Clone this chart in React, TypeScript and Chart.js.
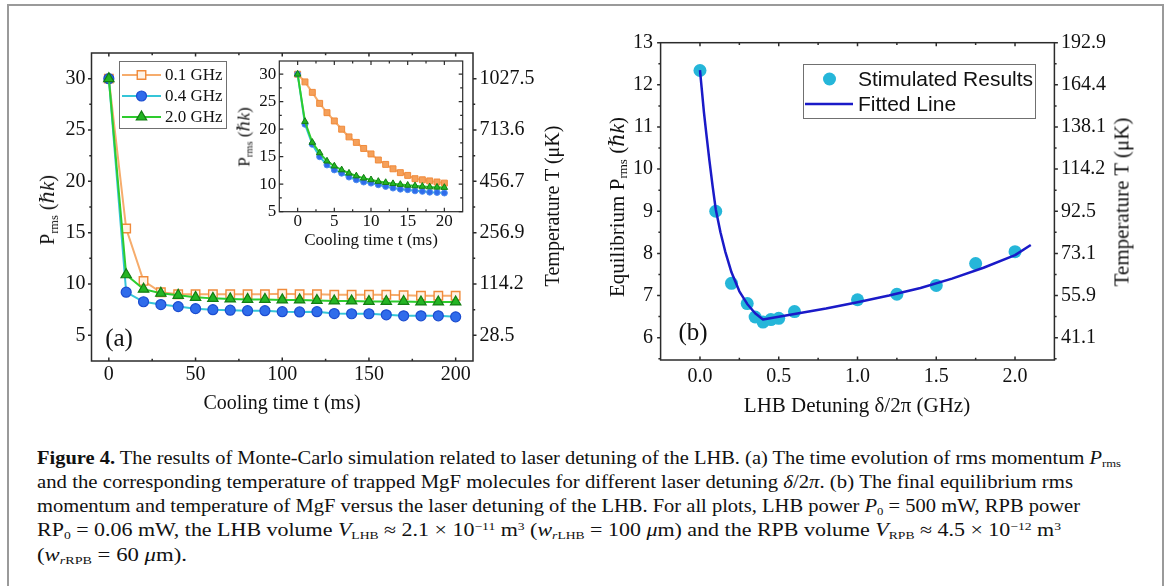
import React, { useEffect, useLayoutEffect, useRef } from 'react';
import { Chart, registerables } from 'chart.js';
Chart.register(...registerables);

const SERIF = "'Liberation Serif', 'Times New Roman', 'DejaVu Serif', serif";
const SANS = "'Liberation Sans', Arial, sans-serif";

// ---------------- Panel (a): main plot ----------------
const coolingTime = [0, 10, 20, 30, 40, 50, 60, 70, 80, 90, 100, 110, 120, 130, 140, 150, 160, 170, 180, 190, 200];
const prms01GHz = [30, 15.4, 10.3, 9.2, 9.0, 9.0, 9.0, 9.0, 9.0, 9.0, 9.05, 9.0, 9.0, 8.95, 8.95, 8.95, 8.95, 8.9, 8.85, 8.85, 8.85];
const prms04GHz = [30, 9.2, 8.27, 8.0, 7.8, 7.6, 7.5, 7.45, 7.4, 7.4, 7.3, 7.28, 7.3, 7.12, 7.1, 7.1, 7.0, 6.9, 6.9, 6.9, 6.8];
const prms20GHz = [30, 10.9, 9.5, 9.1, 8.9, 8.7, 8.6, 8.55, 8.5, 8.5, 8.45, 8.45, 8.4, 8.35, 8.35, 8.3, 8.3, 8.3, 8.25, 8.25, 8.25];
const seriesNamesA = ['0.1 GHz', '0.4 GHz', '2.0 GHz'];
const ticksAX = [0, 50, 100, 150, 200];
const minorAX = [25, 75, 125, 175];
const ticksAY = [5, 10, 15, 20, 25, 30];
const minorAY = [7.5, 12.5, 17.5, 22.5, 27.5];
const tempLabelsA = ['28.5', '114.2', '256.9', '456.7', '713.6', '1027.5'];

// ---------------- Panel (a): inset ----------------
const insetTime = [0, 1, 2, 3, 4, 5, 6, 7, 8, 9, 10, 11, 12, 13, 14, 15, 16, 17, 18, 19, 20];
const insetPrms01 = [30, 28.6, 26.7, 24.7, 23.0, 21.5, 20.0, 18.6, 17.6, 16.5, 15.5, 14.4, 13.6, 12.8, 12.1, 11.6, 11.0, 10.8, 10.6, 10.4, 10.2];
const insetPrms04 = [30, 20.9, 17.25, 15.0, 13.5, 12.6, 12.0, 11.3, 10.8, 10.4, 10.2, 9.9, 9.6, 9.3, 9.1, 9.0, 8.8, 8.7, 8.55, 8.5, 8.4];
const insetPrms20 = [30, 21.4, 17.6, 15.7, 14.2, 13.3, 12.6, 12.0, 11.5, 11.1, 10.8, 10.5, 10.3, 10.1, 9.95, 9.8, 9.7, 9.6, 9.5, 9.45, 9.4];
const ticksInX = [0, 5, 10, 15, 20];
const minorInX = [2.5, 7.5, 12.5, 17.5];
const ticksInY = [5, 10, 15, 20, 25, 30];
const minorInY = [7.5, 12.5, 17.5, 22.5, 27.5];

// ---------------- Panel (b) ----------------
const detuningGHz = [0, 0.1, 0.2, 0.3, 0.35, 0.4, 0.45, 0.5, 0.6, 1.0, 1.25, 1.5, 1.75, 2.0];
const equilibriumPrms = [12.34, 9.0, 7.29, 6.81, 6.49, 6.37, 6.43, 6.46, 6.62, 6.9, 7.03, 7.24, 7.76, 8.04];
const fitDetuning = [0, 0.01, 0.025, 0.04, 0.06, 0.08, 0.1, 0.13, 0.16, 0.2, 0.25, 0.3, 0.35, 0.4, 0.6, 0.8, 1.0, 1.2, 1.4, 1.6, 1.8, 2.0, 2.1];
const fitPrms = [12.35, 11.95, 11.35, 10.85, 10.2, 9.6, 9.05, 8.5, 8.05, 7.55, 7.1, 6.8, 6.58, 6.43, 6.56, 6.69, 6.84, 7.0, 7.18, 7.4, 7.66, 7.96, 8.2];
const seriesNamesB = ['Stimulated Results', 'Fitted Line'];
const ticksBX = [0, 0.5, 1.0, 1.5, 2.0];
const minorBX = [0.25, 0.75, 1.25, 1.75];
const ticksBY = [6, 7, 8, 9, 10, 11, 12, 13];
const minorBY = [5.5, 6.5, 7.5, 8.5, 9.5, 10.5, 11.5, 12.5];
const tempLabelsB = ['41.1', '55.9', '73.1', '92.5', '114.2', '138.1', '164.4', '192.9'];

// colours
const ORANGE_LINE = '#F6AC6C';
const ORANGE_EDGE = '#F08A3A';
const CYAN_LINE = '#35C5D8';
const BLUE_FILL = '#2F6CEB';
const BLUE_EDGE = '#1C4DD0';
const GREEN_LINE = '#2ECC2E';
const GREEN_FILL = '#24B524';
const GREEN_EDGE = '#137E13';
const DOT_B = '#25B6D9';
const FIT_B = '#1A1AC8';
const FRAME = '#2b2b2b';

type Dir = { left: number; right: number; top: number; bottom: number };
function framePlugin(cfg: { xMajor: number[]; xMinor: number[]; yMajor: number[]; yMinor: number[]; dir: Dir; major: number; minor: number; lw: number; fill?: string }) {
  return {
    id: 'frame',
    beforeDraw(chart: any) {
      if (!cfg.fill) return;
      const a = chart.chartArea;
      chart.ctx.save();
      chart.ctx.fillStyle = cfg.fill;
      chart.ctx.fillRect(a.left, a.top, a.right - a.left, a.bottom - a.top);
      chart.ctx.restore();
    },
    afterDraw(chart: any) {
      const ctx = chart.ctx;
      const a = chart.chartArea;
      const xs = chart.scales.x;
      const ys = chart.scales.y;
      ctx.save();
      ctx.strokeStyle = FRAME;
      ctx.lineWidth = cfg.lw;
      ctx.beginPath();
      const vt = (v: number, len: number) => {
        const px = xs.getPixelForValue(v);
        ctx.moveTo(px, a.bottom);
        ctx.lineTo(px, a.bottom - cfg.dir.bottom * len);
        ctx.moveTo(px, a.top);
        ctx.lineTo(px, a.top + cfg.dir.top * len);
      };
      const hz = (v: number, len: number) => {
        const py = ys.getPixelForValue(v);
        ctx.moveTo(a.left, py);
        ctx.lineTo(a.left + cfg.dir.left * len, py);
        ctx.moveTo(a.right, py);
        ctx.lineTo(a.right - cfg.dir.right * len, py);
      };
      cfg.xMajor.forEach((v) => vt(v, cfg.major));
      cfg.xMinor.forEach((v) => vt(v, cfg.minor));
      cfg.yMajor.forEach((v) => hz(v, cfg.major));
      cfg.yMinor.forEach((v) => hz(v, cfg.minor));
      ctx.stroke();
      ctx.strokeRect(a.left, a.top, a.right - a.left, a.bottom - a.top);
      ctx.restore();
    },
  };
}

function drawMarker(ctx: CanvasRenderingContext2D, style: string, x: number, y: number, r: number, fill: string, stroke: string, lw: number) {
  ctx.beginPath();
  if (style === 'rect') {
    const s = r * Math.SQRT1_2;
    ctx.rect(x - s, y - s, 2 * s, 2 * s);
  } else if (style === 'triangle') {
    for (let k = 0; k < 3; k++) {
      const ang = (k * 2 * Math.PI) / 3;
      const px = x + Math.sin(ang) * r;
      const py = y - Math.cos(ang) * r;
      if (k === 0) ctx.moveTo(px, py);
      else ctx.lineTo(px, py);
    }
    ctx.closePath();
  } else {
    ctx.arc(x, y, r, 0, Math.PI * 2);
  }
  ctx.fillStyle = fill;
  ctx.fill();
  if (lw > 0) {
    ctx.lineWidth = lw;
    ctx.strokeStyle = stroke;
    ctx.stroke();
  }
}

const legendAPlugin = {
  id: 'legendA',
  afterDraw(chart: any) {
    const ctx: CanvasRenderingContext2D = chart.ctx;
    ctx.save();
    ctx.fillStyle = '#ffffff';
    ctx.fillRect(119, 61, 107, 67);
    ctx.strokeStyle = '#707070';
    ctx.lineWidth = 1;
    ctx.strokeRect(119.5, 61.5, 107, 67);
    const rows = [75, 96, 117];
    chart.data.datasets.forEach((ds: any, i: number) => {
      const y = rows[i];
      ctx.beginPath();
      ctx.strokeStyle = ds.borderColor;
      ctx.lineWidth = 2;
      ctx.moveTo(122, y);
      ctx.lineTo(161, y);
      ctx.stroke();
      drawMarker(ctx, ds.pointStyle, 141.5, y, ds.pointRadius, ds.pointBackgroundColor, ds.pointBorderColor, ds.pointBorderWidth);
      ctx.fillStyle = '#111';
      ctx.font = `17px ${SERIF}`;
      ctx.textBaseline = 'middle';
      ctx.textAlign = 'left';
      ctx.fillText(ds.label, 165, y + 1);
    });
    ctx.restore();
  },
};

const legendBPlugin = {
  id: 'legendB',
  afterDraw(chart: any) {
    const ctx: CanvasRenderingContext2D = chart.ctx;
    const dots = chart.data.datasets[1];
    const line = chart.data.datasets[0];
    ctx.save();
    ctx.fillStyle = '#ffffff';
    ctx.fillRect(223, 64, 232, 54);
    ctx.strokeStyle = '#707070';
    ctx.lineWidth = 1;
    ctx.strokeRect(223.5, 64.5, 232, 54);
    drawMarker(ctx, 'circle', 249.5, 79, dots.pointRadius, dots.pointBackgroundColor, dots.pointBackgroundColor, 0);
    ctx.beginPath();
    ctx.strokeStyle = line.borderColor;
    ctx.lineWidth = line.borderWidth;
    ctx.moveTo(225, 104);
    ctx.lineTo(273, 104);
    ctx.stroke();
    ctx.fillStyle = '#111';
    ctx.font = `21px ${SANS}`;
    ctx.textBaseline = 'middle';
    ctx.textAlign = 'left';
    ctx.fillText(dots.label, 278, 80);
    ctx.fillText(line.label, 278, 105);
    ctx.restore();
  },
};

const pts = (xs: number[], ys: number[]) => xs.map((x, i) => ({ x, y: ys[i] }));

function axisCommon(size: number, padding: number) {
  return {
    grid: { display: false, drawTicks: false },
    border: { display: false },
    ticks: { font: { family: SERIF, size }, color: '#111', padding, autoSkip: false, maxRotation: 0, minRotation: 0 },
  };
}

const VTitle = ({ x, y, size, children }: { x: number; y: number; size: number; children: any }) => (
  <div style={{ position: 'absolute', left: x, top: y, transform: 'translate(-50%,-50%) rotate(-90deg)', whiteSpace: 'nowrap', fontFamily: SERIF, fontSize: size, lineHeight: 1, color: '#111' }}>{children}</div>
);
const HTitle = ({ x, y, size, children }: { x: number; y: number; size: number; children: any }) => (
  <div style={{ position: 'absolute', left: x, top: y, transform: 'translate(-50%,-50%)', whiteSpace: 'nowrap', fontFamily: SERIF, fontSize: size, lineHeight: 1, color: '#111' }}>{children}</div>
);
const subS = { fontSize: '0.62em', verticalAlign: '-0.3em', lineHeight: 0 } as const;
const supS = { fontSize: '0.62em', verticalAlign: '0.55em', lineHeight: 0 } as const;

const captionLeft = 36.5;
const captionTops = [447.5, 471.5, 496, 520, 545];
const captionWidths = [1084, 1036, 1043, 1024, 150];

export default function App() {
  const refA = useRef<HTMLCanvasElement>(null);
  const refIn = useRef<HTMLCanvasElement>(null);
  const refB = useRef<HTMLCanvasElement>(null);
  const capRefs = useRef<(HTMLDivElement | null)[]>([]);

  useLayoutEffect(() => {
    document.body.style.margin = '0';
    const fit = () => {
      capRefs.current.forEach((el, i) => {
        if (!el) return;
        el.style.transform = 'none';
        const w = el.getBoundingClientRect().width;
        if (w > 0) el.style.transform = `scaleX(${captionWidths[i] / w})`;
      });
    };
    fit();
    (document as any).fonts?.ready?.then(fit);
  }, []);

  useEffect(() => {
    const charts: Chart[] = [];
    // ---- chart (a)
    const cA = new Chart(refA.current!, {
      type: 'line',
      data: {
        datasets: [
          { label: seriesNamesA[0], data: pts(coolingTime, prms01GHz), borderColor: ORANGE_LINE, borderWidth: 2, pointStyle: 'rect', pointRadius: 6, pointBackgroundColor: '#FFF3E6', pointBorderColor: ORANGE_EDGE, pointBorderWidth: 1.4, order: 2, tension: 0 },
          { label: seriesNamesA[1], data: pts(coolingTime, prms04GHz), borderColor: CYAN_LINE, borderWidth: 2, pointStyle: 'circle', pointRadius: 5, pointBackgroundColor: BLUE_FILL, pointBorderColor: BLUE_EDGE, pointBorderWidth: 1.2, order: 1, tension: 0 },
          { label: seriesNamesA[2], data: pts(coolingTime, prms20GHz), borderColor: GREEN_LINE, borderWidth: 2, pointStyle: 'triangle', pointRadius: 6, pointBackgroundColor: GREEN_FILL, pointBorderColor: GREEN_EDGE, pointBorderWidth: 1.2, order: 0, tension: 0 },
        ] as any,
      },
      options: {
        responsive: false,
        animation: false,
        layout: { padding: { top: 53, left: 0, right: 0, bottom: 0 } },
        plugins: { legend: { display: false }, tooltip: { enabled: false } },
        scales: {
          x: { type: 'linear', min: -10, max: 210, ...axisCommon(20, 2), afterBuildTicks: (s: any) => { s.ticks = ticksAX.map((v) => ({ value: v })); }, afterFit: (s: any) => { s.height = 59; } } as any,
          y: { type: 'linear', position: 'left', min: 2.5, max: 32.5, ...axisCommon(20, 6), afterBuildTicks: (s: any) => { s.ticks = ticksAY.map((v) => ({ value: v })); }, afterFit: (s: any) => { s.width = 91.5; } } as any,
          y2: {
            type: 'linear', position: 'right', min: 2.5, max: 32.5, ...axisCommon(20, 6.5),
            afterBuildTicks: (s: any) => { s.ticks = ticksAY.map((v) => ({ value: v })); },
            afterFit: (s: any) => { s.width = 127; },
          } as any,
        },
      },
      plugins: [framePlugin({ xMajor: ticksAX, xMinor: minorAX, yMajor: ticksAY, yMinor: minorAY, dir: { left: -1, right: -1, top: 1, bottom: 1 }, major: 3.5, minor: 2.2, lw: 1.5 }), legendAPlugin],
    });
    (cA.options.scales as any).y2.ticks.callback = (v: number) => tempLabelsA[ticksAY.indexOf(v)] ?? '';
    cA.update();
    charts.push(cA);

    // ---- inset
    const cIn = new Chart(refIn.current!, {
      type: 'line',
      data: {
        datasets: [
          { label: seriesNamesA[0], data: pts(insetTime, insetPrms01), borderColor: ORANGE_LINE, borderWidth: 2, pointStyle: 'rect', pointRadius: 4.2, pointBackgroundColor: '#F5A05A', pointBorderColor: ORANGE_EDGE, pointBorderWidth: 1, order: 2, tension: 0 },
          { label: seriesNamesA[1], data: pts(insetTime, insetPrms04), borderColor: CYAN_LINE, borderWidth: 2, pointStyle: 'circle', pointRadius: 3, pointBackgroundColor: BLUE_FILL, pointBorderColor: '#4B8CF0', pointBorderWidth: 1, order: 1, tension: 0 },
          { label: seriesNamesA[2], data: pts(insetTime, insetPrms20), borderColor: GREEN_LINE, borderWidth: 2, pointStyle: 'triangle', pointRadius: 3.8, pointBackgroundColor: GREEN_FILL, pointBorderColor: GREEN_EDGE, pointBorderWidth: 1, order: 0, tension: 0 },
        ] as any,
      },
      options: {
        responsive: false,
        animation: false,
        layout: { padding: { top: 21, left: 0, right: 7.3, bottom: 0 } },
        plugins: { legend: { display: false }, tooltip: { enabled: false } },
        scales: {
          x: { type: 'linear', min: -2.5, max: 22.5, ...axisCommon(17, 0), afterBuildTicks: (s: any) => { s.ticks = ticksInX.map((v) => ({ value: v })); }, afterFit: (s: any) => { s.height = 38.3; } } as any,
          y: { type: 'linear', min: 5, max: 32.4, ...axisCommon(17, 3), afterBuildTicks: (s: any) => { s.ticks = ticksInY.map((v) => ({ value: v })); }, afterFit: (s: any) => { s.width = 49.3; } } as any,
        },
      },
      plugins: [framePlugin({ xMajor: ticksInX, xMinor: minorInX, yMajor: ticksInY, yMinor: minorInY, dir: { left: 1, right: 1, top: 1, bottom: 1 }, major: 4, minor: 2.5, lw: 1.2, fill: '#ffffff' })],
    });
    charts.push(cIn);

    // ---- chart (b)
    const cB = new Chart(refB.current!, {
      type: 'line',
      data: {
        datasets: [
          { label: seriesNamesB[1], data: pts(fitDetuning, fitPrms), borderColor: FIT_B, borderWidth: 2.5, pointRadius: 0, tension: 0, borderJoinStyle: 'round', order: 0 },
          { label: seriesNamesB[0], data: pts(detuningGHz, equilibriumPrms), showLine: false, pointStyle: 'circle', pointRadius: 6.5, pointBackgroundColor: DOT_B, pointBorderColor: DOT_B, pointBorderWidth: 0, borderColor: DOT_B, order: 1 },
        ] as any,
      },
      options: {
        responsive: false,
        animation: false,
        layout: { padding: { top: 42.7, left: 0, right: 0, bottom: 0 } },
        plugins: { legend: { display: false }, tooltip: { enabled: false } },
        scales: {
          x: {
            type: 'linear', min: -0.25, max: 2.25, ...axisCommon(20, 4.5),
            afterBuildTicks: (s: any) => { s.ticks = ticksBX.map((v) => ({ value: v })); },
            afterFit: (s: any) => { s.height = 60; },
          } as any,
          y: { type: 'linear', position: 'left', min: 5.47, max: 13, ...axisCommon(20, 7.5), afterBuildTicks: (s: any) => { s.ticks = ticksBY.map((v) => ({ value: v })); }, afterFit: (s: any) => { s.width = 80.6; } } as any,
          y2: { type: 'linear', position: 'right', min: 5.47, max: 13, ...axisCommon(20, 6.5), afterBuildTicks: (s: any) => { s.ticks = ticksBY.map((v) => ({ value: v })); }, afterFit: (s: any) => { s.width = 110.6; } } as any,
        },
      },
      plugins: [framePlugin({ xMajor: ticksBX, xMinor: minorBX, yMajor: ticksBY, yMinor: minorBY, dir: { left: -1, right: -1, top: 1, bottom: 1 }, major: 3.5, minor: 2.2, lw: 1.5 }), legendBPlugin],
    });
    (cB.options.scales as any).x.ticks.callback = (v: number) => v.toFixed(1);
    (cB.options.scales as any).y2.ticks.callback = (v: number) => tempLabelsB[ticksBY.indexOf(v)] ?? '';
    cB.update();
    charts.push(cB);

    return () => charts.forEach((c) => c.destroy());
  }, []);

  const capStyle = (i: number) => ({
    position: 'absolute' as const, left: captionLeft, top: captionTops[i], whiteSpace: 'nowrap' as const,
    fontFamily: SERIF, fontSize: 18, lineHeight: '20px', color: '#111', transformOrigin: 'left center',
  });

  return (
    <div style={{ position: 'relative', width: 1168, height: 586, overflow: 'hidden', background: '#fff' }}>
      <div style={{ position: 'absolute', left: 7, top: 4, width: 1153, height: 640, border: '2px solid #9a9a9a' }} />
      <canvas ref={refA} width={600} height={420} style={{ position: 'absolute', left: 0, top: 0, width: 600, height: 420 }} />
      <canvas ref={refIn} width={240} height={210} style={{ position: 'absolute', left: 230, top: 40, width: 240, height: 210 }} />
      <canvas ref={refB} width={585} height={420} style={{ position: 'absolute', left: 580, top: 0, width: 585, height: 420 }} />

      {/* panel (a) titles */}
      <VTitle x={47} y={210} size={20}>P<sub style={subS}>rms</sub> (ℏ<i>k</i>)</VTitle>
      <HTitle x={282} y={402} size={20}>Cooling time t (ms)</HTitle>
      <VTitle x={552} y={206} size={20}>Temperature T (μK)</VTitle>
      <VTitle x={244} y={137} size={17}>P<sub style={subS}>rms</sub> (ℏ<i>k</i>)</VTitle>
      <HTitle x={371} y={239} size={17}>Cooling time t (ms)</HTitle>
      <HTitle x={119} y={337} size={25}>(a)</HTitle>

      {/* panel (b) titles */}
      <VTitle x={617} y={207} size={21}>Equilibrium P<sub style={subS}>rms</sub> (ℏ<i>k</i>)</VTitle>
      <HTitle x={857} y={405} size={21}>LHB Detuning δ/2π (GHz)</HTitle>
      <VTitle x={1122} y={202} size={21}>Temperature T (μK)</VTitle>
      <HTitle x={693} y={331} size={25}>(b)</HTitle>

      {/* caption */}
      <div ref={(el) => { capRefs.current[0] = el; }} style={capStyle(0)}>
        <b>Figure 4.</b> The results of Monte-Carlo simulation related to laser detuning of the LHB. (a) The time evolution of rms momentum <i>P</i><sub style={subS}>rms</sub>
      </div>
      <div ref={(el) => { capRefs.current[1] = el; }} style={capStyle(1)}>
        and the corresponding temperature of trapped MgF molecules for different laser detuning <i>δ</i>/2<i>π</i>. (b) The final equilibrium rms
      </div>
      <div ref={(el) => { capRefs.current[2] = el; }} style={capStyle(2)}>
        momentum and temperature of MgF versus the laser detuning of the LHB. For all plots, LHB power <i>P</i><sub style={subS}>0</sub> = 500 mW, RPB power
      </div>
      <div ref={(el) => { capRefs.current[3] = el; }} style={capStyle(3)}>
        RP<sub style={subS}>0</sub> = 0.06 mW, the LHB volume <i>V</i><sub style={subS}>LHB</sub> ≈ 2.1 × 10<sup style={supS}>−11</sup> m<sup style={supS}>3</sup> (<i>w</i><sub style={subS}><i>r</i>LHB</sub> = 100 <i>μ</i>m) and the RPB volume <i>V</i><sub style={subS}>RPB</sub> ≈ 4.5 × 10<sup style={supS}>−12</sup> m<sup style={supS}>3</sup>
      </div>
      <div ref={(el) => { capRefs.current[4] = el; }} style={capStyle(4)}>
        (<i>w</i><sub style={subS}><i>r</i>RPB</sub> = 60 <i>μ</i>m).
      </div>
    </div>
  );
}
